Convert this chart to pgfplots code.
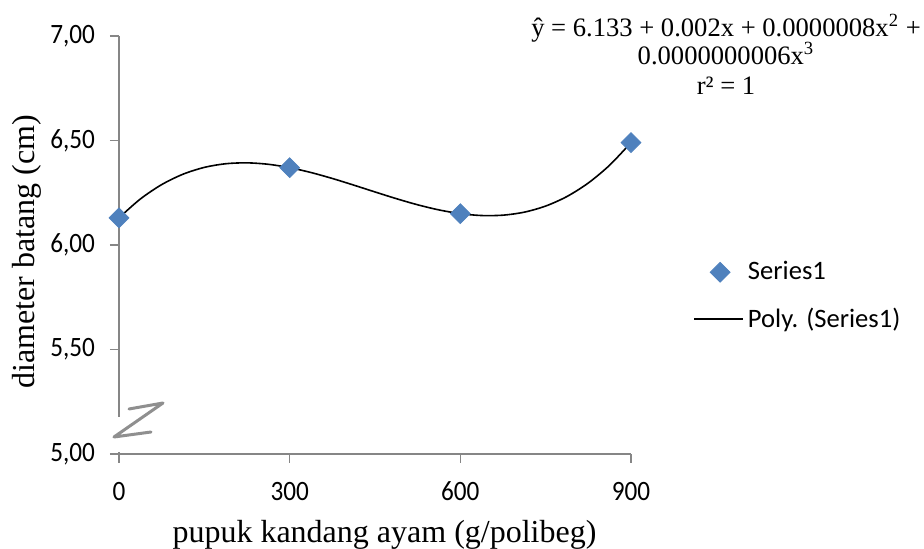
\documentclass[border=0pt]{standalone}
\usepackage{fontspec}
\setmainfont{Liberation Serif}
\newfontfamily\carlito{Carlito}
\newfontfamily\carlitoN[FakeStretch=0.9]{Carlito}
\usepackage{pgfplots}
\usepackage{pgfplotstable}
\pgfplotsset{compat=1.18}
\definecolor{ser}{HTML}{4F81BD}
\definecolor{axgray}{HTML}{868686}
\pgfplotsset{
  markleg/.style={legend image code/.code={\draw[mark repeat=2, mark phase=2, ##1] plot coordinates {(0pt,0pt) (13pt,0pt) (26pt,0pt)};}},
  lineleg/.style={legend image code/.code={\draw[##1] (0pt,0pt) -- (24.5pt,0pt);}},
}

\pgfplotstableread{
x y
0 6.13
300 6.37
600 6.15
900 6.49
}\datatable

\pgfplotstableread{
x y
0 6.1300
37.5 6.2200
75 6.2889
112.5 6.3387
150 6.3713
187.5 6.3887
225 6.3930
262.5 6.3861
300 6.3700
337.5 6.3467
375 6.3183
412.5 6.2866
450 6.2538
487.5 6.2217
525 6.1923
562.5 6.1678
600 6.1500
637.5 6.1410
675 6.1427
712.5 6.1571
750 6.1863
787.5 6.2321
825 6.2967
862.5 6.3820
900 6.4900
}\fittable

\begin{document}
\begin{tikzpicture}
\path[use as bounding box] (-59.5pt,-47.5pt) rectangle (402.5pt,227pt);
\begin{axis}[
  at={(0pt,0pt)}, anchor=south west,
  scale only axis, width=256pt, height=209pt,
  xmin=0, xmax=900, ymin=5, ymax=7,
  axis x line*=bottom, axis y line*=left,
  axis line style={axgray, line width=0.8pt, -},
  xtick={0,300,600,900}, ytick={5,5.5,6,6.5,7},
  tick align=outside, major tick length=4.5pt,
  tick style={axgray, line width=0.8pt},
  /pgf/number format/assume math mode=true,
  every tick label/.append style={font=\carlitoN\fontsize{14}{16}\selectfont, text=black},
  yticklabel style={/pgf/number format/fixed, /pgf/number format/fixed zerofill,
    /pgf/number format/precision=2, /pgf/number format/use comma, xshift=-4pt},
  xticklabel style={/pgf/number format/fixed, yshift=-6pt},
  legend style={draw=none, fill=none, at={(rel axis cs:1.121,0.378)}, anchor=west,
    inner sep=0pt, font=\carlito\fontsize{13.3}{16}\selectfont, row sep=12.5pt,
    nodes={inner ysep=0pt, inner xsep=2pt}},
  legend cell align=left,
  clip=false,
]
\addplot[only marks, mark=square*, mark size=3.5pt,
  mark options={rotate=45, fill=ser, draw=ser}, markleg]
  table[x=x, y=y] {\datatable};
\addlegendentry{Series1}
\addplot[black, line width=0.8pt, smooth, no marks, lineleg]
  table[x=x, y=y] {\fittable};
\addlegendentry{Poly. (Series1)}
\end{axis}
% axis break mark
\fill[white] (-2.5pt,1pt) rectangle (2.5pt,18.5pt);
\draw[black!55, line width=1.5pt, line join=round, line cap=round, opacity=0.8]
  (5pt,22.5pt) -- (22pt,25.5pt) -- (-2.5pt,8.5pt) -- (16pt,11pt);
% titles
\node[rotate=90, font=\fontsize{16}{19}\selectfont] at (-46pt,101.25pt) {diameter batang (cm)};
\node[anchor=base, font=\fontsize{16}{19}\selectfont] at (132.75pt,-44.5pt) {pupuk kandang ayam (g/polibeg)};
% equation
\node[anchor=base, font=\fontsize{13.3}{16}\selectfont] at (303.5pt,208.5pt) {ŷ = 6.133 + 0.002x + 0.0000008x\textsuperscript{2} +};
\node[anchor=base, font=\fontsize{13.3}{16}\selectfont] at (303.5pt,194.5pt) {0.0000000006x\textsuperscript{3}};
\node[anchor=base, font=\fontsize{13.3}{16}\selectfont] at (303.5pt,179.5pt) {r² = 1};
\end{tikzpicture}
\end{document}
